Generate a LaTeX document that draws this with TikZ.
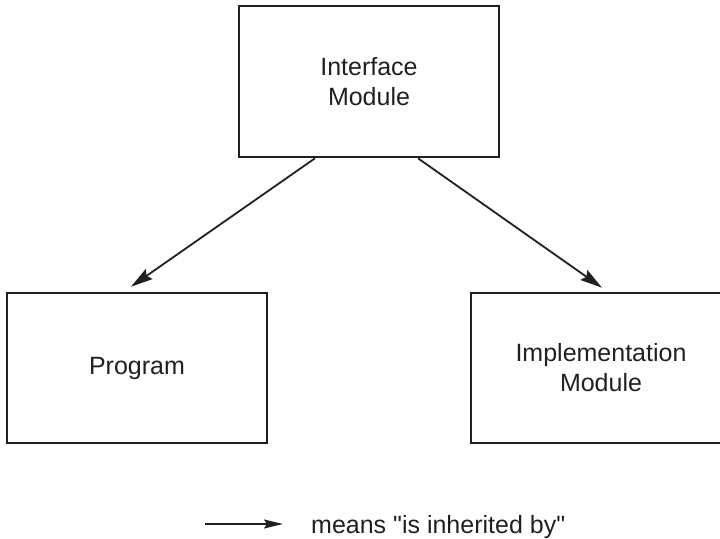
\documentclass[tikz,border=0pt]{standalone}
\usepackage{fontspec}
\setmainfont{Liberation Sans}[Ligatures=TeXOff]
\usetikzlibrary{arrows.meta,calc}
\definecolor{ink}{HTML}{231F20}
\begin{document}
\begin{tikzpicture}[x=1pt,y=1pt,
  box/.style={draw=ink, line width=2.6pt, minimum width=260pt, minimum height=150pt,
    inner sep=0pt, align=center, text=ink, font=\fontsize{25}{30}\selectfont},
  inherit/.style={draw=ink, line width=1.8pt, -{Stealth[length=22pt,width=12pt,inset=3pt]}},
  legarrow/.style={draw=ink, line width=1.8pt, -{Stealth[length=19pt,width=9pt,inset=3pt]}}]
\useasboundingbox (0,0) rectangle (720,538);
\clip (0,0) rectangle (720,538);
\node[box, minimum height=151pt] (im) at (369,456.5) {Interface\\Module};
\node[box] (prog) at (137,170) {Program};
\node[box] (impl) at (601,170) {Implementation\\Module};
\draw[inherit] ($(im.south)+(-54,0)$) -- ($(prog.north)+(-6,5)$);
\draw[inherit] ($(im.south)+(49,0)$) -- ($(impl.north)+(1,4)$);
\coordinate (l1) at (205,14);
\coordinate (l2) at (283,14);
\draw[legarrow] (l1) -- (l2);
\node[anchor=base west, inner sep=0pt, text=ink, font=\fontsize{25}{30}\selectfont] (leg) at (311,5) {means "is inherited by"};
\end{tikzpicture}
\end{document}
